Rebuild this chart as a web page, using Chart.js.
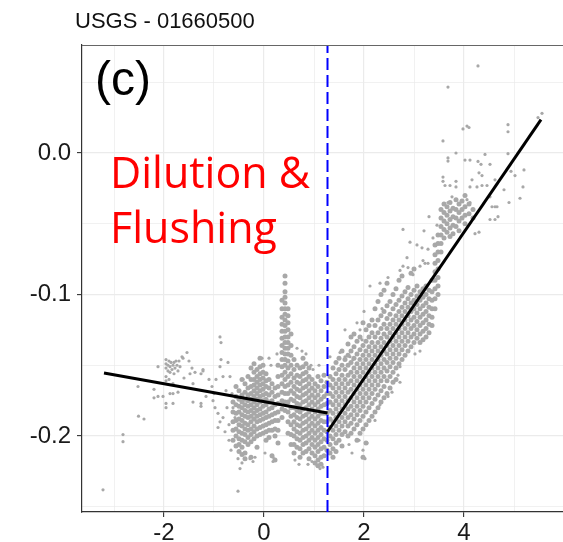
<!DOCTYPE html>
<html><head><meta charset="utf-8">
<script src="https://cdn.jsdelivr.net/npm/chart.js@4.4.1/dist/chart.umd.min.js"></script>
<style>html,body{margin:0;padding:0;background:#fff}#wrap{width:563px;height:542px;position:relative}</style>
</head><body><div id="wrap"><canvas id="c"></canvas></div>
<script>
const titleText = "USGS - 01660500";
const panelLabel = "(c)";
const noteLines = ["Dilution &", "Flushing"];
const xTicks = [-3,-2,-1,0,1,2,3,4,5];
const xLabelTicks = [-2,0,2,4];
const yTicks = [-0.25,-0.2,-0.15,-0.1,-0.05,0,0.05];
const yLabelTicks = [-0.2,-0.1,0];
const xRange = [-3.64, 5.98];
const yRange = [-0.2537, 0.0763];
const breakX = 1.27;
const segLeft = [[-3.20,-0.1555],[1.27,-0.1837]];
const segRight = [[1.27,-0.1970],[5.54,0.0235]];

const sparse = [
[-3.22,-0.238],[-2.82,-0.199],[-2.82,-0.204],[-2.51,-0.186],[-2.40,-0.188],[-2.52,-0.165],
[-2.20,-0.167],[-2.12,-0.151],[-2.20,-0.173],[-2.12,-0.172],[-2.02,-0.172],[-1.96,-0.177],[-1.96,-0.180],
[-1.82,-0.177],[-1.88,-0.170],[-1.82,-0.170],[-1.72,-0.169],[-1.42,-0.176],[-1.26,-0.177],[-1.26,-0.179],[-1.16,-0.172],
[-1.54,-0.141],[-1.64,-0.144],[-1.62,-0.145],[-1.70,-0.147],[-1.50,-0.147],[-1.44,-0.152],[-1.38,-0.155],
[-1.26,-0.156],[-1.22,-0.154],[-1.48,-0.156],[-1.60,-0.159],[-1.42,-0.163],[-1.82,-0.163],[-1.96,-0.158],
[-1.96,-0.161],[-1.90,-0.160],
[-1.96,-0.146],[-1.96,-0.149],[-1.96,-0.152],[-1.92,-0.150],[-1.90,-0.147],[-1.88,-0.151],[-1.86,-0.148],
[-1.84,-0.153],[-1.82,-0.150],[-1.80,-0.148],[-1.78,-0.152],[-1.76,-0.147],[-1.74,-0.150],[-1.72,-0.154],
[-1.88,-0.155],[-1.80,-0.156],[-1.92,-0.154],[-1.68,-0.151],
[-1.22,-0.153],[-1.00,-0.170],[-1.04,-0.165],[-1.02,-0.175],[-0.98,-0.180],[-0.92,-0.184],[-0.82,-0.187],
[-0.78,-0.197],[-0.88,-0.130],[-0.86,-0.134],[-0.86,-0.146],[-0.88,-0.151],[-0.82,-0.158],[-0.68,-0.158],
[-0.64,-0.170],[-0.62,-0.180],[-0.58,-0.187],[-0.88,-0.190],[-0.92,-0.194],[-0.70,-0.192],[-0.74,-0.180],
[-0.76,-0.168],[-1.10,-0.160],[-0.96,-0.160],[-0.72,-0.148],[-0.70,-0.203],[-0.66,-0.210],
[-0.52,-0.239],[-0.48,-0.223],[-0.52,-0.216],[-0.44,-0.219],[-0.28,-0.216],[-0.22,-0.218],[-0.18,-0.215],
[0.18,-0.215],[0.18,-0.218],[0.02,-0.212],[-0.04,-0.145],[0.10,-0.145],[0.14,-0.150],[-0.42,-0.160],[0.26,-0.142],
[0.66,-0.138],[0.76,-0.140],[0.84,-0.142],[0.94,-0.150],[0.98,-0.153],[1.10,-0.150],[1.06,-0.221],[1.12,-0.223],
[1.18,-0.222],[0.96,-0.218],[0.88,-0.220],[0.62,-0.217],[0.70,-0.220],
[1.32,-0.144],[1.52,-0.141],[1.62,-0.144],[1.72,-0.144],[1.78,-0.146],[1.62,-0.125],[1.92,-0.125],[1.96,-0.132],
[1.86,-0.120],[2.12,-0.094],[2.32,-0.092],[2.48,-0.088],[2.72,-0.083],[2.78,-0.080],[2.88,-0.081],[3.12,-0.080],
[3.18,-0.076],[2.78,-0.054],[2.92,-0.063],[3.06,-0.065],[3.16,-0.067],[3.28,-0.068],[2.86,-0.074],[2.98,-0.086],
[3.22,-0.078],[3.28,-0.078],[2.06,-0.205],[1.98,-0.210],[1.90,-0.203],[1.70,-0.206],[1.76,-0.212],[2.02,-0.216],
[2.72,-0.162],[2.68,-0.157],[2.56,-0.169],[2.48,-0.172],[2.32,-0.178],[2.22,-0.189],[2.72,-0.151],[3.02,-0.142],
[3.12,-0.140],[2.36,-0.110],[2.00,-0.112],
[3.58,0.0085],[3.98,0.017],[4.06,0.019],[4.10,0.018],[4.88,0.020],[4.88,0.015],[5.56,0.028],[5.48,0.025],
[3.84,0.000],[3.68,-0.0035],[3.68,-0.0057],[4.12,-0.005],[4.02,-0.005],[4.28,-0.006],[4.34,-0.008],[4.42,-0.001],
[4.52,-0.008],[4.88,-0.0005],[4.94,-0.013],[5.02,-0.016],[5.20,-0.012],[5.18,-0.024],[5.12,-0.032],[4.90,-0.035],
[3.58,-0.017],[3.58,-0.020],[3.62,-0.023],[3.72,-0.023],[3.84,-0.020],[3.84,-0.024],[4.16,-0.019],[4.12,-0.024],
[4.26,-0.024],[4.36,-0.023],[4.46,-0.023],[4.30,-0.014],[4.36,-0.016],[4.62,-0.019],[4.80,-0.026],[4.52,-0.031],
[4.56,-0.038],[4.62,-0.038],[4.66,-0.038],[4.52,-0.047],[4.62,-0.047],[4.68,-0.045],[4.30,-0.056],[4.22,-0.057],
[4.06,-0.033],[4.12,-0.035],[3.76,-0.031],[3.68,-0.035],[3.46,-0.051],[3.38,-0.060],[4.28,0.0615],[3.68,0.0466],
[3.30,-0.045],[3.20,-0.055]
];

const colsLow = [
[-0.62,[-0.176,-0.183,-0.190,-0.196,-0.203]],
[-0.56,[-0.165,-0.172,-0.178,-0.184,-0.189,-0.195,-0.200,-0.207]],
[-0.50,[-0.168,-0.174,-0.179,-0.183,-0.188,-0.192,-0.197,-0.202,-0.206,-0.211]],
[-0.44,[-0.160,-0.171,-0.176,-0.180,-0.185,-0.189,-0.193,-0.198,-0.203,-0.208,-0.213]],
[-0.38,[-0.163,-0.169,-0.174,-0.178,-0.182,-0.186,-0.191,-0.195,-0.199,-0.204,-0.212,-0.216]],
[-0.32,[-0.158,-0.166,-0.171,-0.175,-0.179,-0.183,-0.187,-0.192,-0.196,-0.201,-0.206]],
[-0.26,[-0.152,-0.160,-0.165,-0.170,-0.174,-0.178,-0.182,-0.186,-0.190,-0.195,-0.199,-0.204,-0.215]],
[-0.20,[-0.149,-0.155,-0.160,-0.164,-0.168,-0.172,-0.176,-0.180,-0.184,-0.188,-0.193,-0.197,-0.202]],
[-0.14,[-0.153,-0.158,-0.162,-0.166,-0.170,-0.174,-0.178,-0.182,-0.186,-0.190,-0.195,-0.200,-0.208]],
[-0.08,[-0.145,-0.151,-0.156,-0.160,-0.164,-0.168,-0.172,-0.176,-0.181,-0.185,-0.189,-0.194,-0.199]],
[-0.02,[-0.150,-0.155,-0.159,-0.163,-0.167,-0.171,-0.175,-0.179,-0.184,-0.188,-0.193,-0.198]],
[0.04,[-0.156,-0.161,-0.165,-0.170,-0.174,-0.178,-0.183,-0.187,-0.192,-0.197,-0.203]],
[0.10,[-0.160,-0.166,-0.171,-0.176,-0.181,-0.186,-0.191,-0.196,-0.201]],
[0.16,[-0.163,-0.169,-0.175,-0.180,-0.185,-0.190,-0.196,-0.214]],
[0.22,[-0.166,-0.172,-0.178,-0.184,-0.189,-0.195,-0.200,-0.217]],
[0.28,[-0.150,-0.158,-0.165,-0.171,-0.177,-0.183,-0.189,-0.196,-0.205]],
[0.36,[-0.104,-0.110,-0.116,-0.121,-0.126,-0.131,-0.136,-0.141,-0.146,-0.151,-0.157,-0.163,-0.169,-0.175,-0.181,-0.187]],
[0.42,[-0.087,-0.092,-0.098,-0.102,-0.106,-0.110,-0.114,-0.118,-0.122,-0.126,-0.130,-0.134,-0.138,-0.142,-0.146,-0.150,-0.155,-0.160,-0.165,-0.170,-0.176,-0.182]],
[0.48,[-0.110,-0.115,-0.120,-0.125,-0.130,-0.134,-0.138,-0.142,-0.147,-0.152,-0.158,-0.164,-0.170,-0.176,-0.183,-0.190,-0.198]],
[0.54,[-0.128,-0.136,-0.143,-0.150,-0.156,-0.162,-0.168,-0.174,-0.180,-0.186,-0.192,-0.199,-0.206]],
[0.60,[-0.146,-0.153,-0.159,-0.165,-0.170,-0.175,-0.180,-0.185,-0.190,-0.195,-0.200,-0.206,-0.212]],
[0.66,[-0.150,-0.157,-0.162,-0.167,-0.172,-0.177,-0.182,-0.187,-0.192,-0.197,-0.202,-0.208]],
[0.72,[-0.152,-0.158,-0.163,-0.168,-0.173,-0.178,-0.183,-0.188,-0.193,-0.198,-0.203,-0.209,-0.215]],
[0.78,[-0.145,-0.151,-0.156,-0.161,-0.166,-0.171,-0.176,-0.181,-0.186,-0.191,-0.196,-0.201,-0.206,-0.212]],
[0.84,[-0.149,-0.155,-0.160,-0.165,-0.170,-0.175,-0.180,-0.185,-0.190,-0.195,-0.200,-0.205,-0.211]],
[0.90,[-0.152,-0.158,-0.163,-0.168,-0.173,-0.178,-0.183,-0.188,-0.193,-0.198,-0.203,-0.209,-0.216]],
[0.96,[-0.160,-0.166,-0.171,-0.176,-0.181,-0.186,-0.191,-0.196,-0.201,-0.206,-0.212]],
[1.02,[-0.163,-0.168,-0.173,-0.178,-0.183,-0.188,-0.193,-0.198,-0.203,-0.208,-0.214,-0.219]],
[1.08,[-0.158,-0.165,-0.171,-0.176,-0.181,-0.186,-0.191,-0.196,-0.201,-0.206,-0.211,-0.217,-0.221]],
[1.14,[-0.161,-0.168,-0.174,-0.179,-0.184,-0.189,-0.194,-0.199,-0.204,-0.209,-0.215,-0.220]],
[1.20,[-0.157,-0.165,-0.172,-0.178,-0.184,-0.190,-0.196,-0.202,-0.208,-0.214]],
[1.26,[-0.162,-0.170,-0.177,-0.184,-0.190,-0.197,-0.203,-0.210]]
];

const colsHigh = [
[1.32,[-0.158,-0.164,-0.170,-0.176,-0.182,-0.188,-0.194,-0.200,-0.206,-0.212]],
[1.38,[-0.152,-0.160,-0.166,-0.172,-0.178,-0.184,-0.190,-0.196,-0.202,-0.209,-0.215]],
[1.44,[-0.148,-0.156,-0.163,-0.169,-0.175,-0.181,-0.187,-0.193,-0.199,-0.205,-0.211]],
[1.50,[-0.145,-0.153,-0.160,-0.166,-0.172,-0.178,-0.184,-0.190,-0.196,-0.203]],
[1.56,[-0.140,-0.150,-0.157,-0.163,-0.169,-0.175,-0.181,-0.187,-0.193,-0.199,-0.207]],
[1.62,[-0.146,-0.153,-0.160,-0.166,-0.172,-0.178,-0.184,-0.190,-0.197]],
[1.68,[-0.135,-0.143,-0.150,-0.157,-0.163,-0.169,-0.175,-0.181,-0.187,-0.193,-0.200]],
[1.74,[-0.130,-0.140,-0.148,-0.155,-0.161,-0.167,-0.173,-0.179,-0.185,-0.191,-0.198]],
[1.80,[-0.128,-0.137,-0.145,-0.152,-0.158,-0.164,-0.170,-0.176,-0.182,-0.188,-0.195]],
[1.86,[-0.133,-0.142,-0.149,-0.155,-0.161,-0.167,-0.173,-0.179,-0.185,-0.192,-0.203]],
[1.92,[-0.130,-0.139,-0.146,-0.152,-0.158,-0.164,-0.170,-0.176,-0.182,-0.189,-0.198]],
[1.98,[-0.120,-0.136,-0.143,-0.149,-0.155,-0.161,-0.167,-0.173,-0.179,-0.186,-0.195,-0.215]],
[2.04,[-0.125,-0.133,-0.140,-0.146,-0.152,-0.158,-0.164,-0.170,-0.176,-0.183,-0.192,-0.205]],
[2.10,[-0.122,-0.130,-0.137,-0.143,-0.149,-0.155,-0.161,-0.167,-0.173,-0.180,-0.189]],
[2.16,[-0.118,-0.127,-0.134,-0.140,-0.146,-0.152,-0.158,-0.164,-0.170,-0.177,-0.186]],
[2.22,[-0.110,-0.122,-0.130,-0.137,-0.143,-0.149,-0.155,-0.161,-0.167,-0.174,-0.183]],
[2.28,[-0.105,-0.118,-0.127,-0.134,-0.140,-0.146,-0.152,-0.158,-0.164,-0.171,-0.180]],
[2.34,[-0.100,-0.115,-0.124,-0.131,-0.137,-0.143,-0.149,-0.155,-0.161,-0.168,-0.176]],
[2.40,[-0.097,-0.112,-0.121,-0.128,-0.134,-0.140,-0.146,-0.152,-0.158,-0.165,-0.173]],
[2.46,[-0.092,-0.108,-0.117,-0.124,-0.130,-0.136,-0.142,-0.148,-0.154,-0.161,-0.170]],
[2.52,[-0.105,-0.114,-0.121,-0.127,-0.133,-0.139,-0.145,-0.151,-0.158,-0.166]],
[2.58,[-0.100,-0.110,-0.118,-0.124,-0.130,-0.136,-0.142,-0.148,-0.155,-0.162]],
[2.64,[-0.096,-0.107,-0.115,-0.121,-0.127,-0.133,-0.139,-0.145,-0.152,-0.160]],
[2.70,[-0.090,-0.104,-0.112,-0.118,-0.124,-0.130,-0.136,-0.142,-0.149]],
[2.76,[-0.087,-0.101,-0.109,-0.115,-0.121,-0.127,-0.133,-0.139,-0.146]],
[2.82,[-0.098,-0.106,-0.112,-0.118,-0.124,-0.130,-0.136,-0.143]],
[2.88,[-0.095,-0.103,-0.109,-0.115,-0.121,-0.127,-0.133,-0.140]],
[2.94,[-0.085,-0.100,-0.106,-0.112,-0.118,-0.124,-0.130,-0.137]],
[3.00,[-0.082,-0.097,-0.104,-0.110,-0.116,-0.122,-0.128,-0.134]],
[3.06,[-0.094,-0.101,-0.107,-0.113,-0.119,-0.125,-0.131]],
[3.12,[-0.098,-0.104,-0.110,-0.116,-0.122,-0.128,-0.134]],
[3.18,[-0.096,-0.102,-0.108,-0.114,-0.120,-0.126,-0.132]],
[3.24,[-0.094,-0.100,-0.106,-0.112,-0.118,-0.124,-0.130]],
[3.30,[-0.097,-0.103,-0.109,-0.115,-0.121,-0.127]],
[3.36,[-0.090,-0.098,-0.104,-0.110,-0.116,-0.122]],
[3.42,[-0.065,-0.072,-0.078,-0.084,-0.090,-0.096,-0.103,-0.110]],
[3.48,[-0.058,-0.064,-0.070,-0.076,-0.082,-0.088,-0.094,-0.100]],
[3.54,[-0.040,-0.046,-0.052,-0.058,-0.064,-0.070]],
[3.60,[-0.036,-0.042,-0.048,-0.054,-0.060]],
[3.66,[-0.038,-0.044,-0.050,-0.056]],
[3.72,[-0.035,-0.041,-0.047,-0.053,-0.059]],
[3.78,[-0.039,-0.045,-0.051,-0.057]],
[3.84,[-0.033,-0.040,-0.046,-0.052]],
[3.90,[-0.036,-0.042,-0.048,-0.055]],
[3.96,[-0.034,-0.040,-0.046]],
[4.02,[-0.030,-0.038,-0.044,-0.050]],
[4.10,[-0.036,-0.043]],
[4.18,[-0.040,-0.046]]
];

// text anchors (data coordinates; title in pixels)
const labelAt = {title:[75,22], panel:[-3.38,0.041], note:[-3.08,-0.0247], note2:[-3.08,-0.0636]};

const toPts = arr => arr.map(p => ({x:p[0], y:p[1]}));
const colsToPts = cols => cols.flatMap(c => c[1].map(y => ({x:c[0], y})));
const near = (v, list) => list.some(t => Math.abs(t - v) < 1e-9);

const textPlugin = {
  id:'texts',
  afterDraw(chart){
    const {ctx, chartArea:a, scales:{x, y}} = chart;
    ctx.save();
    ctx.strokeStyle = '#666'; ctx.lineWidth = 1.2;
    ctx.beginPath(); ctx.moveTo(a.left, a.top + 0.5); ctx.lineTo(chart.width, a.top + 0.5); ctx.stroke();
    ctx.fillStyle = '#111';
    ctx.font = '22px "Liberation Sans", Arial, sans-serif';
    ctx.textBaseline = 'middle'; ctx.textAlign = 'left';
    ctx.fillText(titleText, labelAt.title[0], labelAt.title[1]);
    ctx.textBaseline = 'alphabetic';
    ctx.fillStyle = '#000';
    ctx.font = '48px "Liberation Sans", Arial, sans-serif';
    ctx.fillText(panelLabel, x.getPixelForValue(labelAt.panel[0]), y.getPixelForValue(labelAt.panel[1]));
    ctx.fillStyle = '#ff0000';
    ctx.font = '43px "Open Sans", sans-serif';
    ctx.fillText(noteLines[0], x.getPixelForValue(labelAt.note[0]), y.getPixelForValue(labelAt.note[1]));
    ctx.fillText(noteLines[1], x.getPixelForValue(labelAt.note2[0]), y.getPixelForValue(labelAt.note2[1]));
    ctx.restore();
  }
};

const gridOpts = (labels) => ({
  color: '#EBEBEB',
  lineWidth: c => (c.tick && near(c.tick.value, labels)) ? 1.2 : 0.7,
  tickColor: c => (c.tick && near(c.tick.value, labels)) ? '#333' : 'rgba(0,0,0,0)',
  tickLength: 5, tickWidth: 1.1, drawTicks: true
});

new Chart(document.getElementById('c'), {
  type: 'scatter',
  data: { datasets: [
    { type:'line', data: toPts(segLeft), borderColor:'#000', borderWidth:3, pointRadius:0, order:0 },
    { type:'line', data: toPts(segRight), borderColor:'#000', borderWidth:3, pointRadius:0, order:0 },
    { type:'line', data: [{x:breakX, y:yRange[0]}, {x:breakX, y:yRange[1]}], borderColor:'#0000ff', borderWidth:2, borderDash:[12,5], pointRadius:0, order:0 },
    { data: colsToPts(colsLow), backgroundColor:'#a8a8a8', pointBackgroundColor:'#a8a8a8', pointRadius:2.5, pointBorderWidth:0, order:2 },
    { data: colsToPts(colsHigh), backgroundColor:'#a8a8a8', pointBackgroundColor:'#a8a8a8', pointRadius:2.5, pointBorderWidth:0, order:2 },
    { data: toPts(sparse), backgroundColor:'#a8a8a8', pointBackgroundColor:'#a8a8a8', pointRadius:1.6, pointBorderWidth:0, order:2 }
  ]},
  options: {
    responsive:true, maintainAspectRatio:false, animation:false,
    layout:{ autoPadding:false, padding:{ top:45, left:0, right:0, bottom:0 } },
    plugins:{ legend:{display:false}, tooltip:{enabled:false}, title:{display:false} },
    scales:{
      x:{
        type:'linear', min:xRange[0], max:xRange[1],
        afterBuildTicks: s => { s.ticks = xTicks.map(v => ({value:v})); },
        afterFit: s => { s.height = 30; s.paddingLeft = 0; s.paddingRight = 0; },
        ticks:{ autoSkip:false, maxRotation:0, padding:2, color:'#1a1a1a',
          font:{ family:'"Liberation Sans", Arial, sans-serif', size:24 },
          callback: v => near(v, xLabelTicks) ? String(v) : '' },
        grid: gridOpts(xLabelTicks),
        border:{ display:true, color:'#333', width:1.2 }
      },
      y:{
        type:'linear', min:yRange[0], max:yRange[1],
        afterBuildTicks: s => { s.ticks = yTicks.map(v => ({value:v})); },
        afterFit: s => { s.width = 82; s.paddingTop = 0; s.paddingBottom = 0; },
        ticks:{ autoSkip:false, padding:6, color:'#1a1a1a',
          font:{ family:'"Liberation Sans", Arial, sans-serif', size:24 },
          callback: v => near(v, yLabelTicks) ? (Math.abs(v) < 1e-9 ? '0.0' : v.toFixed(1)) : '' },
        grid: gridOpts(yLabelTicks),
        border:{ display:true, color:'#333', width:1.2 }
      }
    }
  },
  plugins:[textPlugin]
});
</script>
</body></html>
